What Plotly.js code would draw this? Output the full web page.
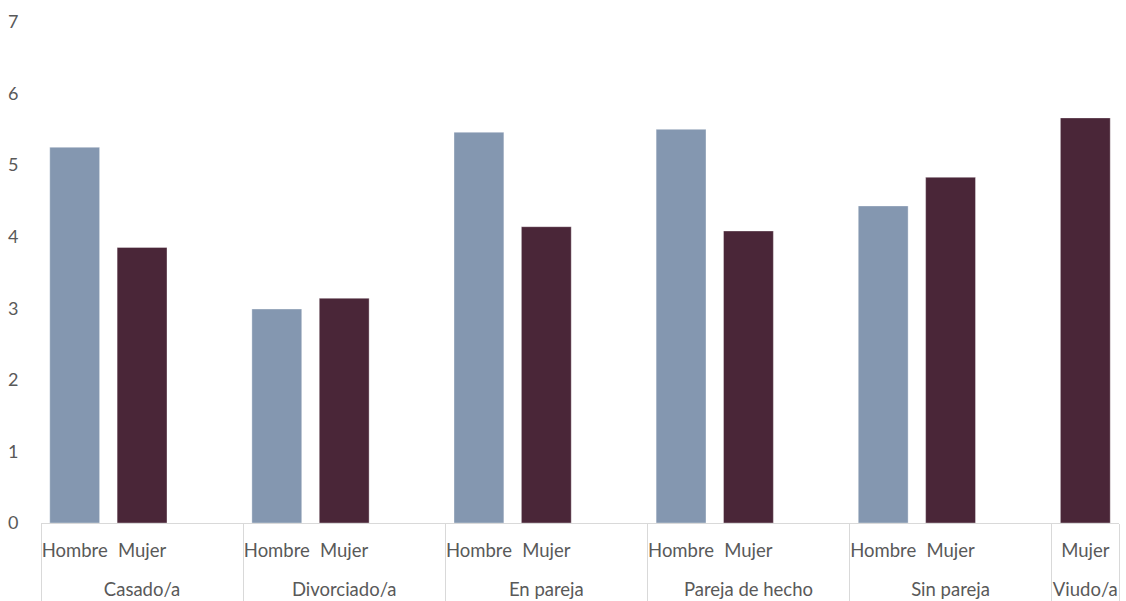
<!DOCTYPE html>
<html>
<head>
<meta charset="utf-8">
<script src="https://cdn.plot.ly/plotly-3.0.1.min.js"></script>
<style>
  html, body { margin: 0; padding: 0; background: #ffffff; }
  #chart { width: 1126px; height: 601px; }
</style>
</head>
<body>
<div id="chart"></div>
<script>
// Marital status groups and the sex of each bar
const groups = ['Casado/a', 'Divorciado/a', 'En pareja', 'Pareja de hecho', 'Sin pareja', 'Viudo/a'];
const sexLabels = ['Hombre', 'Mujer'];
const hombre = [5.25, 2.99, 5.46, 5.50, 4.43, null];
const mujer  = [3.85, 3.14, 4.14, 4.08, 4.83, 5.66];

const colorHombre = '#8497B0';
const colorMujer = '#4A2638';
const textGray = '#595959';
const lineGray = '#D9D9D9';

// Empty spacer slot after each group; its tall blank glyph also sets the gap
// between the leaf row and the group row of the axis labels
const spacerLabel = '<span style="font-size:40px">\u00a0</span>';

// Category slots: Hombre, Mujer and a spacer per group (Viudo/a has only Mujer)
const slotGroup = [], slotLeaf = [];
groups.forEach((g, i) => {
  if (hombre[i] !== null) { slotGroup.push(g); slotLeaf.push(sexLabels[0]); }
  slotGroup.push(g); slotLeaf.push(sexLabels[1]);
  if (i < groups.length - 1) { slotGroup.push(g); slotLeaf.push(spacerLabel); }
});

const hGroup = [], hLeaf = [], hVal = [];
const mGroup = [], mLeaf = [], mVal = [];
groups.forEach((g, i) => {
  if (hombre[i] !== null) { hGroup.push(g); hLeaf.push(sexLabels[0]); hVal.push(hombre[i]); }
  if (mujer[i] !== null) { mGroup.push(g); mLeaf.push(sexLabels[1]); mVal.push(mujer[i]); }
});

const barLine = { color: 'rgba(255,255,255,0.35)', width: 1 };

const traces = [
  {
    type: 'bar', x: [slotGroup, slotLeaf], y: slotLeaf.map(() => null),
    showlegend: false, hoverinfo: 'skip'
  },
  {
    type: 'bar', name: 'Hombre', x: [hGroup, hLeaf], y: hVal,
    width: 0.74, marker: { color: colorHombre, line: barLine }
  },
  {
    type: 'bar', name: 'Mujer', x: [mGroup, mLeaf], y: mVal,
    width: 0.74, marker: { color: colorMujer, line: barLine }
  }
];

const layout = {
  width: 1126, height: 601,
  margin: { l: 41, r: 7, t: 22, b: 78, pad: 0 },
  paper_bgcolor: '#ffffff', plot_bgcolor: '#ffffff',
  barmode: 'overlay',
  showlegend: false,
  font: { family: 'Lato, "Open Sans", sans-serif', size: 18, color: textGray },
  xaxis: {
    type: 'multicategory',
    tickangle: 0,
    showline: true, linecolor: lineGray, linewidth: 1,
    showgrid: false, zeroline: false,
    ticks: '',
    ticklabelstandoff: 11,
    showdividers: true, dividercolor: lineGray, dividerwidth: 1,
    tickfont: { family: 'Lato, "Open Sans", sans-serif', size: 18.5, color: textGray }
  },
  yaxis: {
    range: [0, 7], dtick: 1, tick0: 0,
    showgrid: false, zeroline: false, showline: false,
    ticks: 'outside', ticklen: 18, tickcolor: 'rgba(0,0,0,0)',
    tickfont: { family: 'Lato, "Open Sans", sans-serif', size: 18, color: textGray }
  }
};

Plotly.newPlot('chart', traces, layout, { displayModeBar: false, staticPlot: true });
</script>
</body>
</html>
